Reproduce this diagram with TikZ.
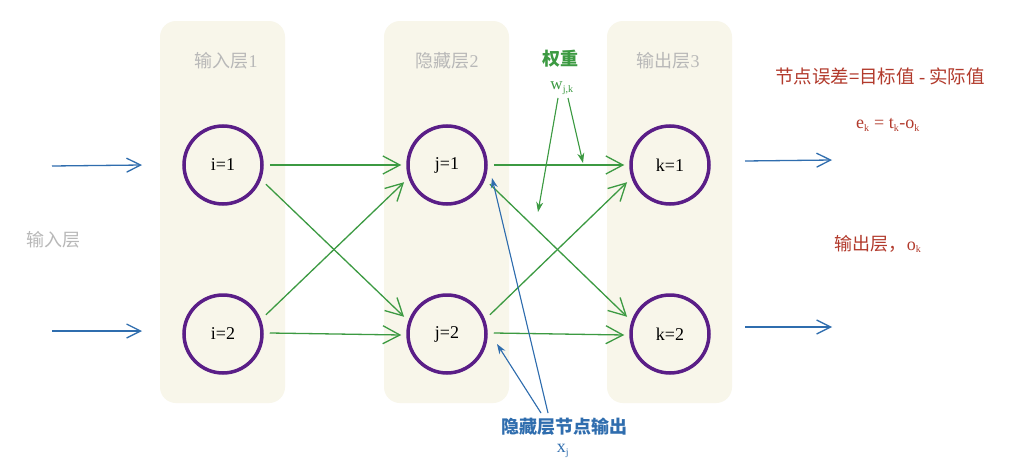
\documentclass[tikz,border=0pt]{standalone}
\usepackage{fontspec}
\setmainfont{Liberation Serif}
\newfontfamily\cjk{Noto Sans CJK SC}
\usetikzlibrary{arrows.meta}
\definecolor{panel}{HTML}{F8F6EA}
\definecolor{purp}{HTML}{5A1E87}
\definecolor{grn}{HTML}{3C9A42}
\definecolor{blu}{HTML}{2F6DAE}
\definecolor{redc}{HTML}{B23A2C}
\definecolor{grayt}{HTML}{B8B8B8}
\begin{document}
\begin{tikzpicture}[x=1pt,y=-1pt,
  panelbox/.style={fill=panel,rounded corners=16pt,draw=none},
  neuron/.style={circle,draw=purp,line width=3.5pt,minimum size=78pt,inner sep=0pt,font=\fontsize{18}{18}\selectfont},
  garrow/.style={draw=grn,line width=1.3pt,-{Straight Barb[length=17pt,width=18pt,line width=1.3pt]}},
  barrow/.style={draw=blu,line width=1.3pt,-{Straight Barb[length=14pt,width=14pt,line width=1.3pt]}},
  sarrow/.style={line width=1.1pt,-{Stealth[length=10pt,width=7pt]}},
  graylabel/.style={text=grayt,font=\cjk\fontsize{18}{18}\selectfont}
]
\useasboundingbox (0,0) rectangle (1010,463);
\fill[white] (0,0) rectangle (1010,463);
% panels
\node[panelbox,minimum width=125pt,minimum height=382pt] (p1) at (222.5,212) {};
\node[panelbox,minimum width=125pt,minimum height=382pt] (p2) at (446.5,212) {};
\node[panelbox,minimum width=125pt,minimum height=382pt] (p3) at (669.5,212) {};
\node[graylabel] (l1) at (226,61) {输入层{\rmfamily 1}};
\node[graylabel] (l2) at (447,61) {隐藏层{\rmfamily 2}};
\node[graylabel] (l3) at (668,61) {输出层{\rmfamily 3}};
\node[graylabel] (lin) at (53,240) {输入层};
% neurons
\node[neuron] (i1) at (223,165) {i=1};
\node[neuron] (i2) at (223,334) {i=2};
\node[neuron] (j1) at (447,165) {j=1};
\node[neuron] (j2) at (447,334) {j=2};
\node[neuron] (k1) at (670,165) {k=1};
\node[neuron] (k2) at (670,334) {k=2};
% input/output arrows
\coordinate (in1a) at (52,166);
\coordinate (in1b) at (142,165);
\coordinate (in2a) at (52,331);
\coordinate (in2b) at (142,331);
\coordinate (out1a) at (745,161);
\coordinate (out1b) at (832,160);
\coordinate (out2a) at (745,327);
\coordinate (out2b) at (832,327);
\draw[barrow] (in1a) -- (in1b);
\draw[barrow] (in2a) -- (in2b);
\draw[barrow] (out1a) -- (out1b);
\draw[barrow] (out2a) -- (out2b);
% weights layer 1->2
\draw[garrow] (i1.east) ++(6,0) -- ([xshift=-5pt]j1.west);
\draw[garrow] (i2.east) ++(6,-1) -- ([xshift=-5pt,yshift=-1pt]j2.west);
\draw[garrow] (i1.-25) ++(6,2) -- ([xshift=-6pt]j2.155);
\draw[garrow] (i2.25) ++(6,-2) -- ([xshift=-6pt]j1.-155);
% weights layer 2->3
\draw[garrow] (j1.east) ++(6,0) -- ([xshift=-5pt]k1.west);
\draw[garrow] (j2.east) ++(6,-1) -- ([xshift=-5pt,yshift=-1pt]k2.west);
\draw[garrow] (j1.-25) ++(6,2) -- ([xshift=-6pt]k2.155);
\draw[garrow] (j2.25) ++(6,-2) -- ([xshift=-6pt]k1.-155);
% weight label
\node[text=grn,font=\cjk\bfseries\fontsize{18}{18}\selectfont] (wt) at (560,59) {权重};
\node[text=grn,font=\fontsize{17}{17}\selectfont] (wjk) at (562,88) {w\textsubscript{\fontsize{10}{10}\selectfont j,k}};
\coordinate (wa) at (568,98);
\coordinate (wb) at (558,98);
\coordinate (wta) at (583,163);
\coordinate (wtb) at (538,212);
\draw[sarrow,draw=grn,fill=grn] (wa) -- (wta);
\draw[sarrow,draw=grn,fill=grn] (wb) -- (wtb);
% right side labels
\node[text=redc,font=\cjk\fontsize{18.5}{18.5}\selectfont] (err) at (880,76) {节点误差=目标值 {\rmfamily -} 实际值};
\node[text=redc,font=\fontsize{18}{18}\selectfont] (eq) at (888,125) {e\textsubscript{\fontsize{10}{10}\selectfont k} = t\textsubscript{\fontsize{10}{10}\selectfont k}-o\textsubscript{\fontsize{10}{10}\selectfont k}};
\node[text=redc,font=\cjk\fontsize{18}{18}\selectfont] (outl) at (878,244) {输出层，{\rmfamily o\textsubscript{\fontsize{10}{10}\selectfont k}}};
% hidden output label
\node[text=blu,font=\cjk\bfseries\fontsize{18}{18}\selectfont] (hid) at (564,427) {隐藏层节点输出};
\node[text=blu,font=\fontsize{18}{18}\selectfont] (xj) at (563,451) {x\textsubscript{\fontsize{10}{10}\selectfont j}};
\coordinate (ha) at (548,413);
\coordinate (hb) at (541,413);
\coordinate (hta) at (492,178);
\coordinate (htb) at (497,344);
\draw[sarrow,draw=blu,fill=blu] (ha) -- (hta);
\draw[sarrow,draw=blu,fill=blu] (hb) -- (htb);
\end{tikzpicture}
\end{document}
